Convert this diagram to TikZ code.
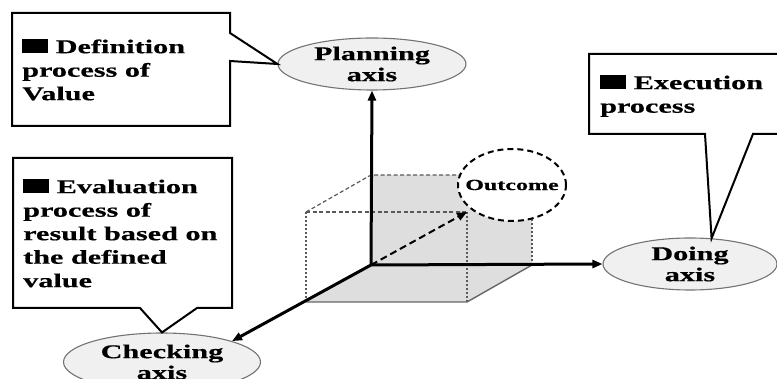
\documentclass[tikz,border=0pt]{standalone}
\usepackage{fontspec}
\setmainfont{Liberation Serif}[FakeStretch=1.55, FakeBold=0.5]
\usetikzlibrary{arrows.meta,shapes.geometric}

\begin{document}
\begin{tikzpicture}[
            x = 1pt, y = -1pt,
            axis node/.style = {shape=ellipse, draw=black!55, line width=1.1pt, fill=black!6, inner sep=0pt},
            axis text/.style = {align=center, font=\fontsize{19.5}{21}\selectfont\bfseries},
            outcome node/.style = {shape=ellipse, draw=black, fill=white, line width=2pt, dash pattern=on 6pt off 4pt, inner sep=0pt, minimum width=108pt, minimum height=72pt},
            outcome text/.style = {font=\fontsize{15.5}{18}\selectfont\bfseries},
            note box/.style = {draw=black, line width=2pt, fill=white},
            note text/.style = {anchor=north west, inner sep=0pt, align=left, font=\fontsize{19.5}{23.5}\selectfont\bfseries},
            main axis/.style = {line width=3pt, -{Triangle[length=10pt,width=8pt]}},
            result arrow/.style = {line width=2pt, dash pattern=on 7pt off 4pt, -{Triangle[length=10pt,width=8pt]}},
            cube fill/.style = {fill=black!13},
            hidden edge/.style = {draw=black!65, line width=1.2pt, dash pattern=on 4pt off 2.5pt},
            dotted edge/.style = {draw=black!65, line width=1.2pt, dash pattern=on 2pt off 2pt},
            solid edge/.style = {draw=black!60, line width=1.4pt}
          ]
          \useasboundingbox (0,0) rectangle (777,379);

          \coordinate (o) at (371,265);
          \coordinate (btl) at (371,175);
          \coordinate (btr) at (532,175);
          \coordinate (bbr) at (532,265);
          \coordinate (ftl) at (306,212);
          \coordinate (ftr) at (467,212);
          \coordinate (fbl) at (306,302);
          \coordinate (fbr) at (467,302);

          \fill[cube fill] (o) rectangle (btr);
          \fill[cube fill] (o) -- (bbr) -- (fbr) -- (fbl) -- cycle;
          \draw[hidden edge] (ftl) -- (btl) -- (btr);
          \draw[hidden edge] (ftl) -- (ftr);
          \draw[dotted edge] (ftl) -- (fbl) (ftr) -- (fbr) (btr) -- (bbr);
          \draw[solid edge] (fbl) -- (fbr) -- (bbr);

          \node[outcome node, label={[outcome text]center:Outcome}] (outcome) at (512,185) {};

          \node[axis node, minimum width=188pt, minimum height=52pt, label={[axis text]center:{Planning\\axis}}] (plan) at (372,64) {};
          \node[axis node, minimum width=174pt, minimum height=52pt, label={[axis text]center:{Doing\\axis}}] (doing) at (690,264) {};
          \node[axis node, minimum width=197pt, minimum height=58pt, label={[axis text]center:{Checking\\axis}}] (check) at (162,362) {};

          \draw[main axis] (o) -- (plan.south);
          \draw[main axis] (o) -- (doing.west);
          \draw[main axis] (o) -- (check.north east);
          \draw[result arrow] (o) -- (ftr);

          \draw[note box] (12,13) -- (230,13) -- (230,33) -- (plan.west) -- (230,61) -- (230,126) -- (12,126) -- cycle;
          \node[note text] (definition) at (22,39) {\rule{26pt}{14pt} Definition\\process of\\Value};

          \draw[note box] (13,158) -- (232,158) -- (232,308) -- (197,308) -- (check.north) -- (140,308) -- (13,308) -- cycle;
          \node[note text] (evaluation) at (23,179) {\rule{26pt}{14pt} Evaluation\\process of\\result based on\\the defined\\value};

          \draw[note box] (589,54) -- (800,54) -- (800,134) -- (753,134) -- (doing.50) -- (705,134) -- (589,134) -- cycle;
          \node[note text] (execution) at (600,75) {\rule{26pt}{14pt} Execution\\process};
        \end{tikzpicture}
\end{document}
